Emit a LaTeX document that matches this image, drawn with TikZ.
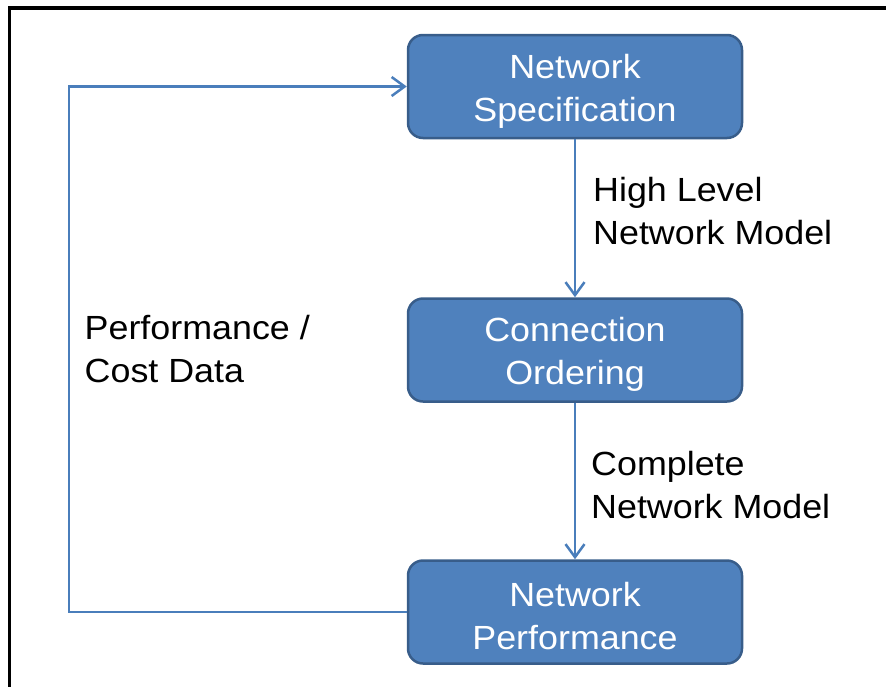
\documentclass[tikz,border=0pt]{standalone}
\usepackage{fontspec}
\setmainfont{Liberation Sans}[FakeStretch=1.07]
\usetikzlibrary{arrows.meta}
\definecolor{boxfill}{HTML}{4F81BD}
\definecolor{boxedge}{HTML}{385D8A}
\definecolor{flow}{HTML}{4A7EBB}
\newcommand{\topstrut}{\rule{0pt}{33pt}}
\tikzset{
  stage/.style={rectangle, rounded corners=15pt, fill=boxfill, draw=boxedge,
    line width=2.5pt, minimum width=334pt, minimum height=103pt,
    text=white, align=center, inner sep=0pt,
    font=\fontsize{33.5pt}{43pt}\selectfont},
  note/.style={align=left, inner sep=0pt, text=black,
    font=\fontsize{33.5pt}{43pt}\selectfont},
  flowline/.style={draw=flow, line width=2.5pt,
    -{Straight Barb[length=13pt,width=19pt,line width=2.5pt]}}
}
\begin{document}
\begin{tikzpicture}[x=1pt,y=-1pt]
  \useasboundingbox (0,0) rectangle (886,686);
  % outer frame, open to the right and bottom
  \draw[line width=3.5pt, line cap=rect] (9.3,700) -- (9.3,8) -- (900,8);

  \node[stage] (spec) at (575,86.5) {\topstrut Network\\Specification};
  \node[stage] (conn) at (575,350) {\topstrut Connection\\Ordering};
  \node[stage] (perf) at (575,612) {\topstrut Network\\Performance};

  \node[note, anchor=west] (hlm) at (593,211.5) {High Level\\Network Model};
  \node[note, anchor=west] (cnm) at (591,485.5) {Complete\\Network Model};
  \node[note, anchor=west] (pcd) at (84.5,349) {Performance /\\Cost Data};

  \coordinate (fbot) at (69,612);
  \draw[flowline] (spec.south) -- (conn.north);
  \draw[flowline] (conn.south) -- (perf.north);
  \draw[flowline] (perf.west) -- (fbot) |- (spec.west);
\end{tikzpicture}
\end{document}
